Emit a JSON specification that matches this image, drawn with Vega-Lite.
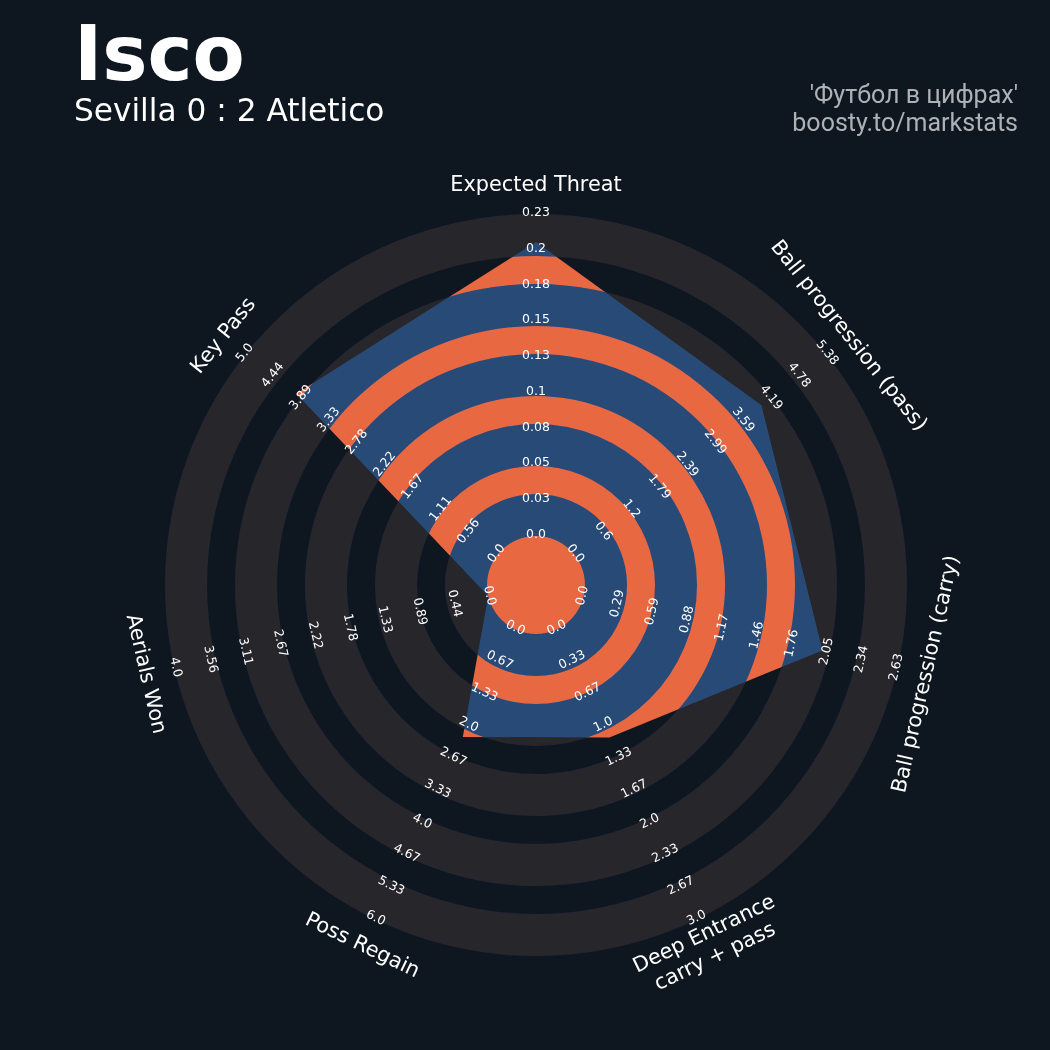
{
  "$schema": "https://vega.github.io/schema/vega-lite/v6.json",
  "width": 1050,
  "height": 1050,
  "autosize": {"type": "none"},
  "padding": 0,
  "background": "#0e1720",
  "config": {"view": {"stroke": null}, "axis": {"disable": true}, "legend": {"disable": true}},
  "datasets": {
    "stats": [
      {"idx": 0, "metric": "Expected Threat", "value": 0.21, "max": 0.23},
      {"idx": 1, "metric": "Ball progression (pass)", "value": 4.0, "max": 5.38},
      {"idx": 2, "metric": "Ball progression (carry)", "value": 2.0, "max": 2.63},
      {"idx": 3, "metric": "Deep Entrance\ncarry + pass", "value": 1.12, "max": 3.0},
      {"idx": 4, "metric": "Poss Regain", "value": 2.23, "max": 6.0},
      {"idx": 5, "metric": "Aerials Won", "value": 0.0, "max": 4.0},
      {"idx": 6, "metric": "Key Pass", "value": 4.0, "max": 5.0}
    ],
    "ranges": [
      {"idx": 0, "labels": ["0.0", "0.03", "0.05", "0.08", "0.1", "0.13", "0.15", "0.18", "0.2", "0.23"], "k": [0, 1, 2, 3, 4, 5, 6, 7, 8, 9]},
      {"idx": 1, "labels": ["0.0", "0.6", "1.2", "1.79", "2.39", "2.99", "3.59", "4.19", "4.78", "5.38"], "k": [0, 1, 2, 3, 4, 5, 6, 7, 8, 9]},
      {"idx": 2, "labels": ["0.0", "0.29", "0.59", "0.88", "1.17", "1.46", "1.76", "2.05", "2.34", "2.63"], "k": [0, 1, 2, 3, 4, 5, 6, 7, 8, 9]},
      {"idx": 3, "labels": ["0.0", "0.33", "0.67", "1.0", "1.33", "1.67", "2.0", "2.33", "2.67", "3.0"], "k": [0, 1, 2, 3, 4, 5, 6, 7, 8, 9]},
      {"idx": 4, "labels": ["0.0", "0.67", "1.33", "2.0", "2.67", "3.33", "4.0", "4.67", "5.33", "6.0"], "k": [0, 1, 2, 3, 4, 5, 6, 7, 8, 9]},
      {"idx": 5, "labels": ["0.0", "0.44", "0.89", "1.33", "1.78", "2.22", "2.67", "3.11", "3.56", "4.0"], "k": [0, 1, 2, 3, 4, 5, 6, 7, 8, 9]},
      {"idx": 6, "labels": ["0.0", "0.56", "1.11", "1.67", "2.22", "2.78", "3.33", "3.89", "4.44", "5.0"], "k": [0, 1, 2, 3, 4, 5, 6, 7, 8, 9]}
    ],
    "rings": [{"ring": 0}, {"ring": 1}, {"ring": 2}, {"ring": 3}, {"ring": 4}]
  },
  "layer": [
    {
      "data": {"name": "stats"},
      "transform": [
        {"calculate": "3.5 + 23 * datum.value / datum.max", "as": "r"},
        {"calculate": "datum.idx * 2 * PI / 7", "as": "a"},
        {"calculate": "datum.r * sin(datum.a)", "as": "px"},
        {"calculate": "datum.r * cos(datum.a)", "as": "py"}
      ],
      "mark": {"type": "line", "interpolate": "linear-closed", "fill": "#e86842", "stroke": "#e86842", "strokeWidth": 0},
      "encoding": {
        "x": {"field": "px", "type": "quantitative", "scale": {"domain": [-38.2857, 36.7143], "nice": false, "zero": false}},
        "y": {"field": "py", "type": "quantitative", "scale": {"domain": [-33.2143, 41.7857], "nice": false, "zero": false}},
        "order": {"field": "idx", "type": "quantitative"}
      }
    },
    {
      "data": {"values": [{"part": "centre"}]},
      "mark": {"type": "arc", "theta": 0, "theta2": 6.283185307, "fill": "#e86842"},
      "encoding": {
        "x": {"datum": 0, "type": "quantitative", "scale": {"domain": [-38.2857, 36.7143], "nice": false, "zero": false}},
        "y": {"datum": 0, "type": "quantitative", "scale": {"domain": [-33.2143, 41.7857], "nice": false, "zero": false}},
        "radius": {"datum": 3.5, "type": "quantitative", "scale": {"type": "linear", "domain": [0, 26.5], "range": [0, 371], "zero": true}}
      }
    },
    {
      "data": {"name": "rings"},
      "transform": [{"calculate": "3.5 + 5 * datum.ring", "as": "r0"}, {"calculate": "datum.r0 + 3", "as": "r1"}],
      "mark": {"type": "arc", "theta": 0, "theta2": 6.283185307, "fill": "#0082ff", "blend": "multiply"},
      "encoding": {
        "x": {"datum": 0, "type": "quantitative", "scale": {"domain": [-38.2857, 36.7143], "nice": false, "zero": false}},
        "y": {"datum": 0, "type": "quantitative", "scale": {"domain": [-33.2143, 41.7857], "nice": false, "zero": false}},
        "radius": {"field": "r1", "type": "quantitative", "scale": {"type": "linear", "domain": [0, 26.5], "range": [0, 371], "zero": true}},
        "radius2": {"field": "r0"}
      }
    },
    {
      "data": {"name": "rings"},
      "transform": [{"calculate": "3.5 + 5 * datum.ring", "as": "r0"}, {"calculate": "datum.r0 + 3", "as": "r1"}],
      "mark": {"type": "arc", "theta": 0, "theta2": 6.283185307, "fill": "#000020", "blend": "difference"},
      "encoding": {
        "x": {"datum": 0, "type": "quantitative", "scale": {"domain": [-38.2857, 36.7143], "nice": false, "zero": false}},
        "y": {"datum": 0, "type": "quantitative", "scale": {"domain": [-33.2143, 41.7857], "nice": false, "zero": false}},
        "radius": {"field": "r1", "type": "quantitative", "scale": {"type": "linear", "domain": [0, 26.5], "range": [0, 371], "zero": true}},
        "radius2": {"field": "r0"}
      }
    },
    {
      "data": {"name": "rings"},
      "transform": [{"calculate": "3.5 + 5 * datum.ring", "as": "r0"}, {"calculate": "datum.r0 + 3", "as": "r1"}],
      "mark": {"type": "arc", "theta": 0, "theta2": 6.283185307, "fill": "#0000a0", "blend": "color-dodge"},
      "encoding": {
        "x": {"datum": 0, "type": "quantitative", "scale": {"domain": [-38.2857, 36.7143], "nice": false, "zero": false}},
        "y": {"datum": 0, "type": "quantitative", "scale": {"domain": [-33.2143, 41.7857], "nice": false, "zero": false}},
        "radius": {"field": "r1", "type": "quantitative", "scale": {"type": "linear", "domain": [0, 26.5], "range": [0, 371], "zero": true}},
        "radius2": {"field": "r0"}
      }
    },
    {
      "data": {"name": "rings"},
      "transform": [{"calculate": "3.5 + 5 * datum.ring", "as": "r0"}, {"calculate": "datum.r0 + 3", "as": "r1"}],
      "mark": {"type": "arc", "theta": 0, "theta2": 6.283185307, "fill": "#271b2b", "blend": "screen"},
      "encoding": {
        "x": {"datum": 0, "type": "quantitative", "scale": {"domain": [-38.2857, 36.7143], "nice": false, "zero": false}},
        "y": {"datum": 0, "type": "quantitative", "scale": {"domain": [-33.2143, 41.7857], "nice": false, "zero": false}},
        "radius": {"field": "r1", "type": "quantitative", "scale": {"type": "linear", "domain": [0, 26.5], "range": [0, 371], "zero": true}},
        "radius2": {"field": "r0"}
      }
    },
    {
      "data": {"name": "ranges"},
      "transform": [
        {"flatten": ["labels", "k"]},
        {"calculate": "3.5 + 23 * datum.k / 9", "as": "r"},
        {"calculate": "datum.idx * 360 / 7", "as": "deg"},
        {"calculate": "datum.deg > 90 && datum.deg < 270 ? datum.deg - 180 : datum.deg", "as": "rot"}
      ],
      "mark": {"type": "text", "font": "DejaVu Sans", "fontSize": 12.5, "fill": "#ffffff", "align": "center", "baseline": "middle", "dy": -2},
      "encoding": {
        "x": {"datum": 0, "type": "quantitative", "scale": {"domain": [-38.2857, 36.7143], "nice": false, "zero": false}},
        "y": {"datum": 0, "type": "quantitative", "scale": {"domain": [-33.2143, 41.7857], "nice": false, "zero": false}},
        "theta": {"field": "idx", "type": "quantitative", "stack": null, "scale": {"type": "linear", "domain": [0, 7], "range": [0, 6.283185307], "zero": true}},
        "radius": {"field": "r", "type": "quantitative", "scale": {"type": "linear", "domain": [0, 26.5], "range": [0, 371], "zero": true}},
        "angle": {"field": "rot", "type": "quantitative", "scale": null},
        "text": {"field": "labels", "type": "nominal"}
      }
    },
    {
      "data": {"name": "stats"},
      "transform": [
        {"filter": "datum.idx != 3"},
        {"calculate": "datum.idx * 360 / 7", "as": "deg"},
        {"calculate": "datum.deg > 90 && datum.deg < 270 ? datum.deg - 180 : datum.deg", "as": "rot"}
      ],
      "mark": {"type": "text", "font": "DejaVu Sans", "fontSize": 20.8, "fill": "#ffffff", "align": "center", "baseline": "middle"},
      "encoding": {
        "x": {"datum": 0, "type": "quantitative", "scale": {"domain": [-38.2857, 36.7143], "nice": false, "zero": false}},
        "y": {"datum": 0, "type": "quantitative", "scale": {"domain": [-33.2143, 41.7857], "nice": false, "zero": false}},
        "theta": {"field": "idx", "type": "quantitative", "stack": null, "scale": {"type": "linear", "domain": [0, 7], "range": [0, 6.283185307], "zero": true}},
        "radius": {"datum": 28.57, "type": "quantitative", "scale": {"type": "linear", "domain": [0, 26.5], "range": [0, 371], "zero": true}},
        "angle": {"field": "rot", "type": "quantitative", "scale": null},
        "text": {"field": "metric", "type": "nominal"}
      }
    },
    {
      "data": {"name": "stats"},
      "transform": [
        {"filter": "datum.idx == 3"},
        {"calculate": "datum.idx * 360 / 7", "as": "deg"},
        {"calculate": "datum.deg > 90 && datum.deg < 270 ? datum.deg - 180 : datum.deg", "as": "rot"}
      ],
      "mark": {"type": "text", "font": "DejaVu Sans", "fontSize": 20.8, "fill": "#ffffff", "align": "center", "baseline": "middle", "lineBreak": "\n", "lineHeight": 25, "dy": -12.5},
      "encoding": {
        "x": {"datum": 0, "type": "quantitative", "scale": {"domain": [-38.2857, 36.7143], "nice": false, "zero": false}},
        "y": {"datum": 0, "type": "quantitative", "scale": {"domain": [-33.2143, 41.7857], "nice": false, "zero": false}},
        "theta": {"field": "idx", "type": "quantitative", "stack": null, "scale": {"type": "linear", "domain": [0, 7], "range": [0, 6.283185307], "zero": true}},
        "radius": {"datum": 28.57, "type": "quantitative", "scale": {"type": "linear", "domain": [0, 26.5], "range": [0, 371], "zero": true}},
        "angle": {"field": "rot", "type": "quantitative", "scale": null},
        "text": {"field": "metric", "type": "nominal"}
      }
    },
    {
      "data": {"values": [{"t": "Isco"}]},
      "mark": {"type": "text", "font": "DejaVu Sans", "fontWeight": "bold", "fontSize": 76, "fill": "#ffffff", "align": "left", "baseline": "alphabetic"},
      "encoding": {
        "x": {"datum": -33.0, "type": "quantitative", "scale": {"domain": [-38.2857, 36.7143], "nice": false, "zero": false}},
        "y": {"datum": 36.07, "type": "quantitative", "scale": {"domain": [-33.2143, 41.7857], "nice": false, "zero": false}},
        "text": {"field": "t", "type": "nominal"}
      }
    },
    {
      "data": {"values": [{"t": "Sevilla 0 : 2 Atletico"}]},
      "mark": {"type": "text", "font": "DejaVu Sans", "fontSize": 31.2, "fill": "#ffffff", "align": "left", "baseline": "alphabetic"},
      "encoding": {
        "x": {"datum": -33.0, "type": "quantitative", "scale": {"domain": [-38.2857, 36.7143], "nice": false, "zero": false}},
        "y": {"datum": 33.14, "type": "quantitative", "scale": {"domain": [-33.2143, 41.7857], "nice": false, "zero": false}},
        "text": {"field": "t", "type": "nominal"}
      }
    },
    {
      "data": {"values": [{"t": "'Футбол в цифрах'\nboosty.to/markstats"}]},
      "mark": {"type": "text", "font": "Roboto", "fontSize": 25, "fill": "#aeb2b6", "align": "right", "baseline": "alphabetic", "lineBreak": "\n", "lineHeight": 28},
      "encoding": {
        "x": {"datum": 34.43, "type": "quantitative", "scale": {"domain": [-38.2857, 36.7143], "nice": false, "zero": false}},
        "y": {"datum": 34.4, "type": "quantitative", "scale": {"domain": [-33.2143, 41.7857], "nice": false, "zero": false}},
        "text": {"field": "t", "type": "nominal"}
      }
    }
  ]
}
